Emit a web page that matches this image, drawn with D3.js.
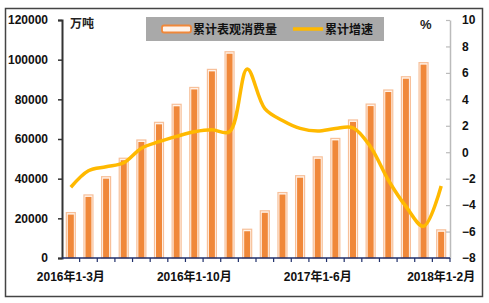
<!DOCTYPE html>
<html><head><meta charset="utf-8">
<script src="https://cdn.jsdelivr.net/npm/d3@7"></script>
<style>body{margin:0;background:#fff}</style>
</head><body>
<script>
const categories = ["2016年1-3月","2016年1-4月","2016年1-5月","2016年1-6月","2016年1-7月","2016年1-8月","2016年1-9月","2016年1-10月","2016年1-11月","2016年1-12月",
"2017年1-2月","2017年1-3月","2017年1-4月","2017年1-5月","2017年1-6月","2017年1-7月","2017年1-8月","2017年1-9月","2017年1-10月","2017年1-11月","2017年1-12月","2018年1-2月"];
const consumption = [22900,31800,41000,50300,59500,68400,77500,86000,95100,104000,14500,23800,33000,41500,51000,60300,69600,77600,84700,91400,98500,14200];
const growth = [-2.65,-1.4,-1.1,-0.8,0.3,0.8,1.2,1.55,1.7,1.55,6.3,3.3,2.4,1.8,1.6,1.8,1.85,0.4,-2.1,-4.1,-5.6,-2.55];
const leftTicks = [0,20000,40000,60000,80000,100000,120000];
const rightTicks = [-8,-6,-4,-2,0,2,4,6,8,10];
const shownLabels = ["2016年1-3月","2016年1-10月","2017年1-6月","2018年1-2月"];
const legendNames = ["累计表观消费量","累计增速"];

(function(){
const W=489,H=303;
const svg=d3.select("body").append("svg").attr("width",W).attr("height",H);
const pl=62,pr=450,pt=20,pb=258;
const font="'Liberation Sans',Arial,'Noto Sans CJK SC',sans-serif";
const cjk="'Noto Sans CJK SC',sans-serif";

svg.append("rect").attr("x",5.5).attr("y",8.5).attr("width",477).attr("height",288)
  .attr("fill","#fff").attr("stroke","#444").attr("stroke-width",1.5);

const x=d3.scaleBand().domain(categories).range([pl,pr]).paddingInner(0).paddingOuter(0);
const yL=d3.scaleLinear().domain([0,120000]).range([pb,pt]);
const yR=d3.scaleLinear().domain([-8,10]).range([pb,pt]);

const g=svg.append("g");
const bw=9;
g.selectAll("rect.o").data(consumption).join("rect")
  .attr("x",(d,i)=>x(categories[i])+x.bandwidth()/2-bw/2)
  .attr("y",d=>yL(d)).attr("width",bw).attr("height",d=>pb-yL(d))
  .attr("fill","#FFF3EA").attr("stroke","#F7C09A").attr("stroke-width",1.2);
g.selectAll("rect.i").data(consumption).join("rect")
  .attr("x",(d,i)=>x(categories[i])+x.bandwidth()/2-3)
  .attr("y",d=>yL(d)+2).attr("width",6).attr("height",d=>Math.max(0,pb-yL(d)-2))
  .attr("fill","#F0883A");

const axL=svg.append("g").attr("transform",`translate(${pl},0)`)
  .call(d3.axisLeft(yL).tickValues(leftTicks).tickFormat(d3.format("d")).tickSize(4).tickPadding(10));
axL.select(".domain").attr("stroke","#333").attr("stroke-width",2);
axL.selectAll(".tick line").attr("stroke","#333").attr("stroke-width",1.5);
axL.selectAll("text").attr("font-family",font).attr("font-size",12).attr("font-weight","bold").attr("fill","#111");

const axR=svg.append("g").attr("transform",`translate(${pr},0)`)
  .call(d3.axisRight(yR).tickValues(rightTicks).tickSizeInner(-4).tickSizeOuter(0).tickPadding(12));
axR.select(".domain").attr("stroke","#BBB").attr("stroke-width",1.5);
axR.selectAll(".tick line").attr("stroke","#BBB").attr("stroke-width",1.2);
axR.selectAll("text").attr("font-family",font).attr("font-size",12).attr("font-weight","bold").attr("fill","#111");

const axB=svg.append("g").attr("transform",`translate(0,${pb})`)
  .call(d3.axisBottom(x).tickValues(shownLabels).tickSize(0).tickPadding(14));
axB.select(".domain").remove();
axB.selectAll("text").attr("font-family",font).attr("font-size",12).attr("font-weight","bold").attr("fill","#111");
svg.append("line").attr("x1",pl).attr("x2",pr).attr("y1",pb).attr("y2",pb)
  .attr("stroke","#1F2F6B").attr("stroke-width",1.5);
svg.append("g").selectAll("line").data(d3.range(1,categories.length+1)).join("line")
  .attr("x1",i=>pl+i*x.bandwidth()).attr("x2",i=>pl+i*x.bandwidth())
  .attr("y1",pb).attr("y2",pb+4).attr("stroke","#1F2F6B").attr("stroke-width",1.2);

const line=d3.line().x((d,i)=>x(categories[i])+x.bandwidth()/2).y(d=>yR(d)).curve(d3.curveCatmullRom.alpha(0.5));
svg.append("path").datum(growth).attr("d",line).attr("fill","none")
  .attr("stroke","#FFB900").attr("stroke-width",3.5).attr("stroke-linejoin","round");

svg.append("text").attr("x",70).attr("y",28).text("万吨").attr("font-family",cjk).attr("font-size",12).attr("font-weight","bold").attr("fill","#222");
svg.append("text").attr("x",420).attr("y",29).text("%").attr("font-family",font).attr("font-size",13).attr("font-weight","bold").attr("fill","#222");

const lg=svg.append("g");
lg.append("rect").attr("x",146).attr("y",17).attr("width",238).attr("height",24).attr("fill","#A9A9A9");
lg.append("rect").attr("x",162).attr("y",25.5).attr("width",29).attr("height",7).attr("rx",2)
  .attr("fill","#FFF3EA").attr("stroke","#F0883A").attr("stroke-width",1.8);
lg.append("text").attr("x",193).attr("y",34).text(legendNames[0]).attr("font-family",cjk).attr("font-size",12).attr("font-weight","bold").attr("fill","#111");
lg.append("line").attr("x1",293).attr("x2",323).attr("y1",29).attr("y2",29).attr("stroke","#FFB900").attr("stroke-width",3.5);
lg.append("text").attr("x",325).attr("y",34).text(legendNames[1]).attr("font-family",cjk).attr("font-size",12).attr("font-weight","bold").attr("fill","#111");
})();
</script>
</body></html>
